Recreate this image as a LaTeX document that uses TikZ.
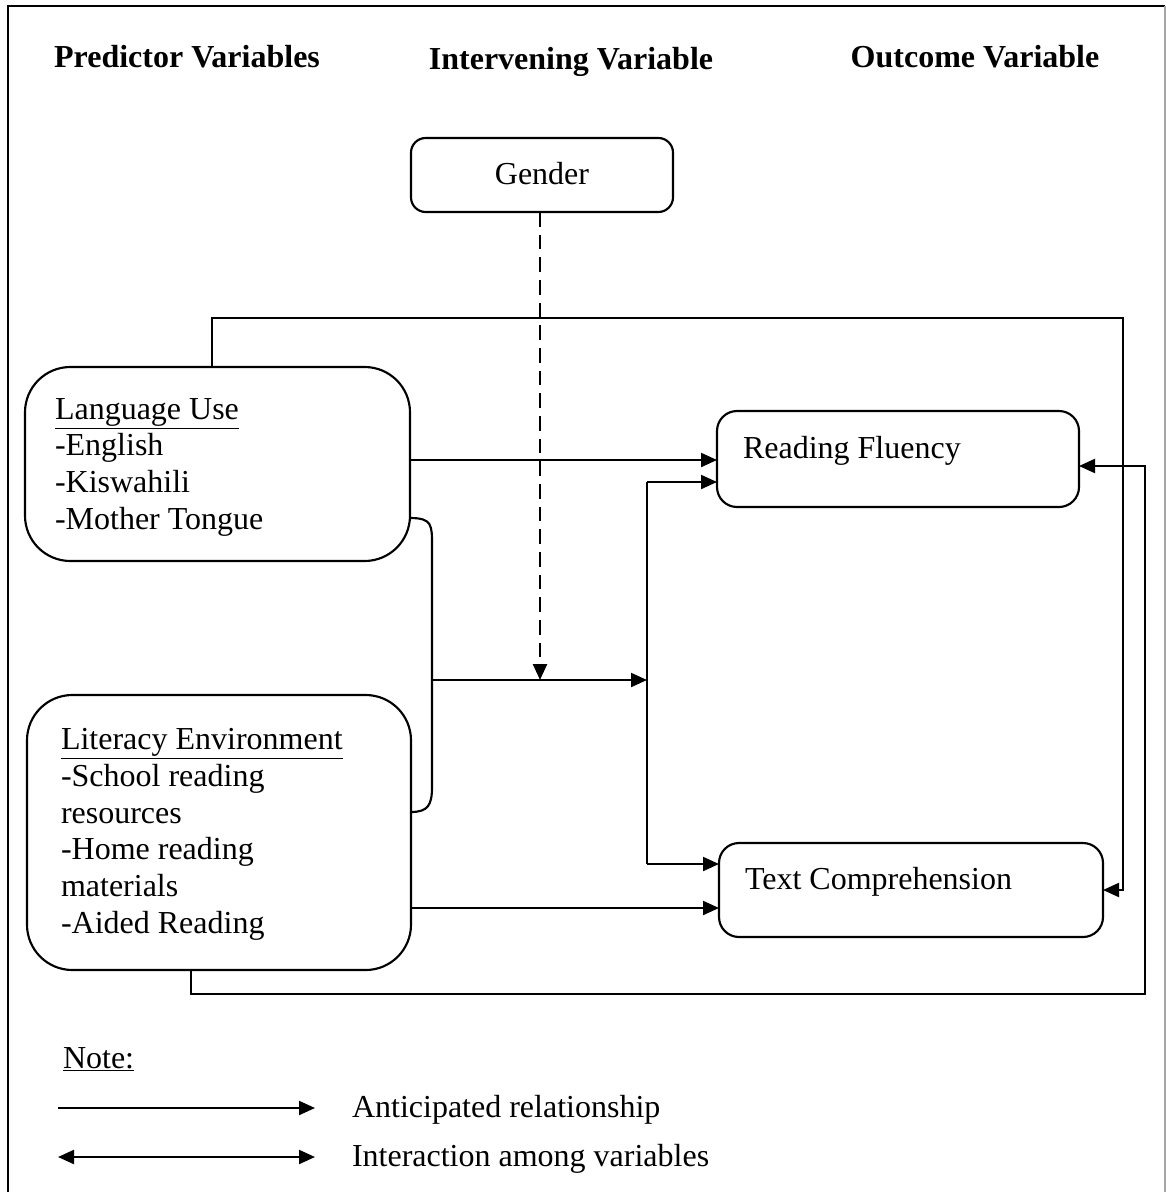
\documentclass[tikz,border=0pt]{standalone}
\usepackage{fontspec}
\setmainfont{Liberation Serif}
\usetikzlibrary{arrows.meta}
\begin{document}
\begin{tikzpicture}[x=0.75pt,y=-0.75pt,
  every node/.style={inner sep=0pt,outer sep=0pt},
  txt/.style={font=\fontsize{24}{27.5}\selectfont,align=left},
  hdr/.style={font=\fontsize{24}{28}\selectfont\bfseries},
  box/.style={draw,line width=1.6pt,rounded corners=#1},
  ln/.style={line width=1.6pt},
  arr/.style={line width=1.6pt,-{Triangle[length=12pt,width=10.5pt]}},
  darr/.style={line width=1.6pt,{Triangle[length=12pt,width=10.5pt]}-{Triangle[length=12pt,width=10.5pt]}}]
\useasboundingbox (0,0) rectangle (1166,1192);
% frame
\draw[line width=1.8pt] (8,1200) -- (8,6) -- (1165,6);
\draw[gray!70,line width=0.8pt] (1165,6) -- (1165,1200);
% headers
\node[hdr,anchor=base] (h1) at (187,67) {Predictor Variables};
\node[hdr,anchor=base] (h2) at (571,69) {Intervening Variable};
\node[hdr,anchor=base] (h3) at (975,67) {Outcome Variable};
% boxes
\node[box=11pt,minimum width=196.5pt,minimum height=55.5pt] (gen) at (542,175) {};
\node[txt,anchor=base] (gent) at (542,184) {Gender};
\node[box=34pt,minimum width=288.75pt,minimum height=145.5pt] (lang) at (217.5,464) {};
\node[txt,anchor=base west] (langt) at (55,529) {\underline{Language Use}\\-English\\-Kiswahili\\-Mother Tongue};
\node[box=34pt,minimum width=288pt,minimum height=206.25pt] (lit) at (219,832.5) {};
\node[txt,anchor=base west] (litt) at (61,933) {\underline{Literacy Environment}\\-School reading\\resources\\-Home reading\\materials\\-Aided Reading};
\node[box=15pt,minimum width=271.5pt,minimum height=72pt] (rf) at (898,459) {};
\node[txt,anchor=base west] (rft) at (743,458) {Reading Fluency};
\node[box=15pt,minimum width=288pt,minimum height=70.5pt] (tc) at (911,890) {};
\node[txt,anchor=base west] (tct) at (745,889) {Text Comprehension};
% connectors
\draw[arr] (lang.north -| 212,0) |- (1123,318) |- (tc.east);
\draw[arr] (lit.south -| 191,0) |- (1145,994) |- (rf.east |- 0,466);
\draw[arr] (lang.east |- 0,460) -- (rf.west |- 0,460);
\draw[arr] (lit.east |- 0,908) -- (tc.west |- 0,908);
\draw[ln] (lang.east |- 0,518) .. controls (432,518) and (432,525) .. (432,545) -- (432,787) .. controls (432,805) and (428,812) .. (lit.east |- 0,812);
\coordinate (bj) at (432,680);
\coordinate (vj) at (647,680);
\coordinate (vtop) at (647,482);
\coordinate (vbot) at (647,864);
\draw[arr] (bj) -- (vj);
\draw[ln] (vtop) -- (vbot);
\draw[arr] (vtop) -- (rf.west |- vtop);
\draw[arr] (vbot) -- (tc.west |- vbot);
\draw[arr,line width=1.8pt,dash pattern=on 11pt off 6pt] (gen.south -| 540,0) -- (540,680);
% legend
\node[txt,anchor=base west] (note) at (63,1068) {\underline{Note:}};
\coordinate (la1) at (58,1108);
\coordinate (la2) at (315,1108);
\coordinate (lb1) at (58,1157);
\coordinate (lb2) at (315,1157);
\draw[arr] (la1) -- (la2);
\draw[darr] (lb1) -- (lb2);
\node[txt,anchor=base west] (l1) at (352,1117) {Anticipated relationship};
\node[txt,anchor=base west] (l2) at (352,1166) {Interaction among variables};
\end{tikzpicture}
\end{document}
